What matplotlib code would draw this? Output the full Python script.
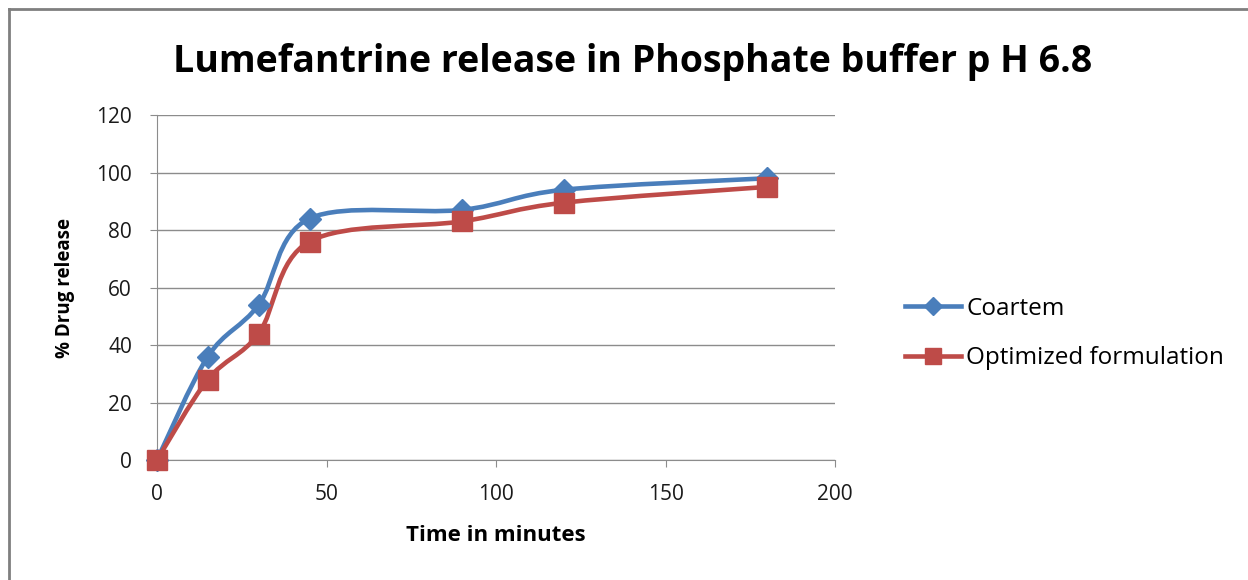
import numpy as np
import matplotlib
matplotlib.use("Agg")
import matplotlib.pyplot as plt
from matplotlib.path import Path
from matplotlib.patches import PathPatch
from matplotlib.lines import Line2D

# %% DATA
time_min = [0, 15, 30, 45, 90, 120, 180]
coartem = [0, 36, 54, 84, 87, 94, 98]
optimized = [0, 28, 44, 76, 83, 89.5, 95]
x_ticks = [0, 50, 100, 150, 200]
y_ticks = [0, 20, 40, 60, 80, 100, 120]

blue = '#4A7EBB'
red = '#BE4B48'
font = 'Open Sans'


def smooth_path(x, y):
    # Excel-like smoothed line: cubic Bezier through the points (Catmull-Rom tangents)
    pts = np.column_stack([x, y]).astype(float)
    ext = np.vstack([pts[0], pts, pts[-1]])
    verts = [pts[0]]
    codes = [Path.MOVETO]
    for i in range(1, len(ext) - 2):
        p0, p1, p2, p3 = ext[i - 1], ext[i], ext[i + 1], ext[i + 2]
        verts += [p1 + (p2 - p0) / 6, p2 - (p3 - p1) / 6, p2]
        codes += [Path.CURVE4] * 3
    return Path(verts, codes)


fig = plt.figure(figsize=(12.48, 5.8), dpi=100)
ax = fig.add_axes([0.1258, 0.2069, 0.5433, 0.5948])

for yv, col, mk, ms, lab in [(coartem, blue, 'D', 11, 'Coartem'),
                             (optimized, red, 's', 14, 'Optimized formulation')]:
    ax.add_patch(PathPatch(smooth_path(time_min, yv), fill=False, edgecolor=col,
                           lw=3.3, zorder=3))
    ax.plot(time_min, yv, ls='none', marker=mk, ms=ms, color=col, zorder=4,
            clip_on=False)

ax.set_xlim(0, 200)
ax.set_ylim(0, 120)
ax.set_xticks(x_ticks)
ax.set_yticks(y_ticks)
ax.grid(axis='y', color='#8c8c8c', lw=1)
ax.set_axisbelow(True)
for s in ['top', 'right']:
    ax.spines[s].set_visible(False)
for s in ['left', 'bottom']:
    ax.spines[s].set_color('#8c8c8c')
ax.tick_params(colors='#8c8c8c', length=5, labelcolor='#1a1a1a', labelsize=15)
ax.tick_params(axis='x', pad=12)
ax.tick_params(axis='y', pad=13)
for lbl in ax.get_xticklabels() + ax.get_yticklabels():
    lbl.set_fontfamily(font)
ax.set_xlabel('Time in minutes', fontsize=16, fontweight='bold', family=font, labelpad=15)
ax.set_ylabel('% Drug release', fontsize=13.5, fontweight='bold', family=font, labelpad=15)

fig.text(0.507, 0.893, 'Lumefantrine release in Phosphate buffer p H 6.8',
         ha='center', va='center', fontsize=27, fontweight='bold', family=font)

handles = [Line2D([0], [0], color=blue, lw=3.3, marker='D', ms=9),
           Line2D([0], [0], color=red, lw=3.3, marker='s', ms=12)]
fig.legend(handles, ['Coartem', 'Optimized formulation'], loc='center left',
           bbox_to_anchor=(0.708, 0.425), frameon=False,
           prop={'family': font, 'size': 17.5}, handlelength=2.3,
           handletextpad=0.2, labelspacing=1.05)

# chart border (top and left edge visible)
fig.add_artist(Line2D([0.007, 0.007], [0.0, 0.984], color='#7f7f7f', lw=2))
fig.add_artist(Line2D([0.007, 1.0], [0.984, 0.984], color='#7f7f7f', lw=2))

fig.savefig('out.png', dpi=100)
